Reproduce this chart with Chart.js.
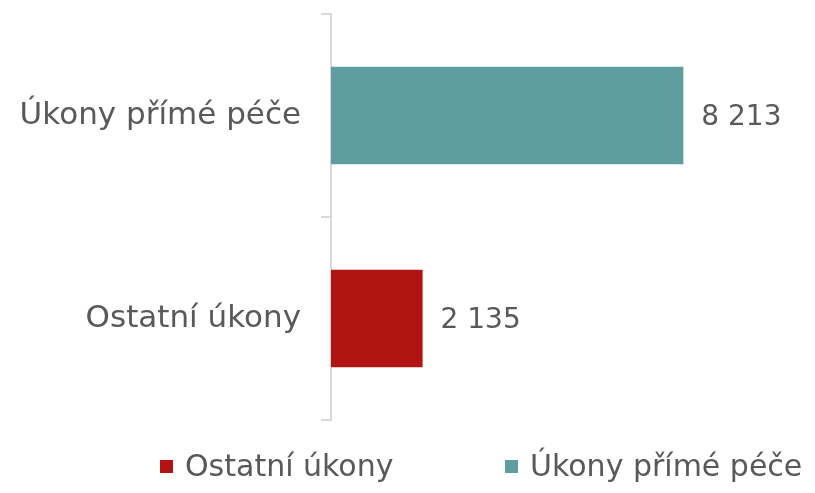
<!DOCTYPE html>
<html lang="cs">
<head>
  <meta charset="UTF-8">
  <title>Úkony</title>
  <script src="https://cdn.jsdelivr.net/npm/chart.js"></script>
  <style>
    html, body {
      margin: 0;
      padding: 0;
      background: #ffffff;
    }
    #chart-container {
      width: 815px;
      height: 493px;
    }
  </style>
</head>
<body>
  <div id="chart-container">
    <canvas id="ukonyChart"></canvas>
  </div>

  <script>
    // categories top to bottom
    const categories = ['Úkony přímé péče', 'Ostatní úkony'];
    // one series per category, as in the original legend order
    const seriesNames = ['Ostatní úkony', 'Úkony přímé péče'];
    const ostatniValues = [null, 2135];
    const primaValues = [8213, null];
    const seriesColors = ['#B01513', '#5F9EA0'];

    const fontFamily = '"DejaVu Sans", sans-serif';
    const textColor = '#595959';

    function formatNumber(v) {
      return String(v).replace(/\B(?=(\d{3})+(?!\d))/g, ' ');
    }

    // value labels right of each bar
    const valueLabels = {
      id: 'valueLabels',
      afterDatasetsDraw(chart) {
        const ctx = chart.ctx;
        ctx.save();
        ctx.font = '28px ' + fontFamily;
        ctx.fillStyle = textColor;
        ctx.textAlign = 'left';
        ctx.textBaseline = 'middle';
        chart.data.datasets.forEach((ds, i) => {
          chart.getDatasetMeta(i).data.forEach((bar, j) => {
            const v = ds.data[j];
            if (v == null) return;
            ctx.fillText(formatNumber(v), bar.x + 18, bar.y + 2);
          });
        });
        ctx.restore();
      }
    };

    // legend drawn below the plot, spaced like the original
    const bottomLegend = {
      id: 'bottomLegend',
      afterDraw(chart) {
        const ctx = chart.ctx;
        const y = 467;
        let x = 160;
        ctx.save();
        ctx.font = '30px ' + fontFamily;
        ctx.textAlign = 'left';
        ctx.textBaseline = 'middle';
        chart.data.datasets.forEach((ds, i) => {
          ctx.fillStyle = ds.backgroundColor;
          ctx.fillRect(x, y - 7, 13, 13);
          ctx.fillStyle = textColor;
          ctx.fillText(ds.label, x + 25, y + 1);
          x = 505;
        });
        ctx.restore();
      }
    };

    const ctx = document.getElementById('ukonyChart').getContext('2d');
    new Chart(ctx, {
      type: 'bar',
      data: {
        labels: categories,
        datasets: [
          {
            label: seriesNames[0],
            data: ostatniValues,
            backgroundColor: seriesColors[0]
          },
          {
            label: seriesNames[1],
            data: primaValues,
            backgroundColor: seriesColors[1]
          }
        ]
      },
      options: {
        indexAxis: 'y',
        responsive: true,
        maintainAspectRatio: false,
        animation: false,
        grouped: false,
        barPercentage: 0.48,
        categoryPercentage: 1,
        layout: {
          padding: { top: 14, bottom: 73, right: 55, left: 0 }
        },
        plugins: {
          legend: { display: false },
          tooltip: { enabled: false }
        },
        scales: {
          x: {
            display: false,
            min: 0,
            max: 10000
          },
          y: {
            afterFit(scale) {
              scale.width = 331;
              scale.paddingTop = 0;
              scale.paddingBottom = 0;
            },
            border: { display: true, color: '#d9d9d9', width: 2 },
            grid: {
              display: true,
              drawOnChartArea: false,
              drawTicks: true,
              tickLength: 10,
              color: '#d9d9d9',
              lineWidth: 2
            },
            ticks: {
              color: textColor,
              padding: 20,
              font: { family: 'DejaVu Sans', size: 31 }
            }
          }
        }
      },
      plugins: [valueLabels, bottomLegend]
    });
  </script>
</body>
</html>
